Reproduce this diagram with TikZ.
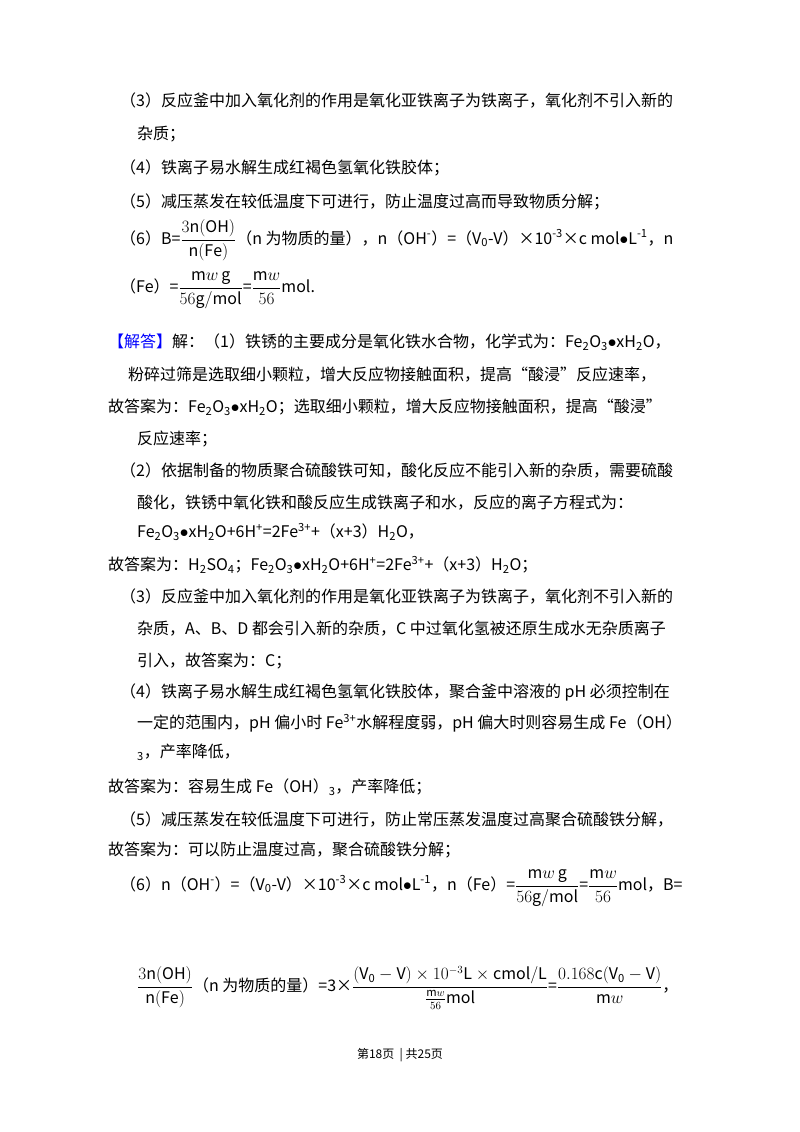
\documentclass[tikz,border=0pt]{standalone}
\usepackage{amsmath}
\usepackage{fontspec}
\setmainfont{Noto Sans CJK SC}
\begin{document}
\begin{tikzpicture}[x=1pt,y=1pt,
  tx/.style={anchor=west,inner sep=0,font=\fontsize{16}{18}\selectfont}]
\useasboundingbox (0,0) rectangle (800,-1132);
\fill[white] (0,0) rectangle (800,-1132);
\newcommand{\sub}[1]{\textsubscript{#1}}
\newcommand{\sps}[1]{\textsuperscript{#1}}
\newcommand{\fe}{Fe\sub{2}O\sub{3}$\bullet$xH\sub{2}O}
\node[tx] (a1) at (120,-101) {（3）反应釜中加入氧化剂的作用是氧化亚铁离子为铁离子，氧化剂不引入新的};
\node[tx] (a2) at (137,-134) {杂质；};
\node[tx] (a3) at (120,-168) {（4）铁离子易水解生成红褐色氢氧化铁胶体；};
\node[tx] (a4) at (120,-202) {（5）减压蒸发在较低温度下可进行，防止温度过高而导致物质分解；};
\node[tx] (a5) at (120,-240) {（6）B=$\dfrac{3\mathrm{n(OH)}}{\mathrm{n(Fe)}}$（n 为物质的量），n（OH\sps{-}）=（V\sub{0}-V）×10\sps{-3}×c mol$\bullet$L\sps{-1}，n};
\node[tx] (a6) at (120,-290) {（Fe）=$\dfrac{\mathrm{m}w\,\mathrm{g}}{56\mathrm{g/mol}}$=$\dfrac{\mathrm{m}w}{56}$mol.};
\node[tx] (a7) at (108,-342) {\textcolor{blue}{【解答】}解：（1）铁锈的主要成分是氧化铁水合物，化学式为：\fe，};
\node[tx] (a8) at (128,-375) {粉碎过筛是选取细小颗粒，增大反应物接触面积，提高“酸浸”反应速率，};
\node[tx] (a9) at (108,-407) {故答案为：\fe；选取细小颗粒，增大反应物接触面积，提高“酸浸”};
\node[tx] (a10) at (137,-439) {反应速率；};
\node[tx] (a11) at (120,-471) {（2）依据制备的物质聚合硫酸铁可知，酸化反应不能引入新的杂质，需要硫酸};
\node[tx] (a12) at (137,-503) {酸化，铁锈中氧化铁和酸反应生成铁离子和水，反应的离子方程式为：};
\node[tx] (a13) at (137,-532) {\fe+6H\sps{+}=2Fe\sps{3+}+（x+3）H\sub{2}O，};
\node[tx] (a14) at (108,-565) {故答案为：H\sub{2}SO\sub{4}；\fe+6H\sps{+}=2Fe\sps{3+}+（x+3）H\sub{2}O；};
\node[tx] (a15) at (120,-597) {（3）反应釜中加入氧化剂的作用是氧化亚铁离子为铁离子，氧化剂不引入新的};
\node[tx] (a16) at (137,-629) {杂质，A、B、D 都会引入新的杂质，C 中过氧化氢被还原生成水无杂质离子};
\node[tx] (a17) at (137,-661) {引入，故答案为：C；};
\node[tx] (a18) at (120,-692) {（4）铁离子易水解生成红褐色氢氧化铁胶体，聚合釜中溶液的 pH 必须控制在};
\node[tx] (a19) at (137,-723) {一定的范围内，pH 偏小时 Fe\sps{3+}水解程度弱，pH 偏大时则容易生成 Fe（OH）};
\node[tx] (a20) at (137,-752) {\sub{3}，产率降低，};
\node[tx] (a21) at (108,-787) {故答案为：容易生成 Fe（OH）\sub{3}，产率降低；};
\node[tx] (a22) at (120,-819) {（5）减压蒸发在较低温度下可进行，防止常压蒸发温度过高聚合硫酸铁分解，};
\node[tx] (a23) at (108,-850) {故答案为：可以防止温度过高，聚合硫酸铁分解；};
\node[tx] (a24) at (120,-888) {（6）n（OH\sps{-}）=（V\sub{0}-V）×10\sps{-3}×c mol$\bullet$L\sps{-1}，n（Fe）=$\dfrac{\mathrm{m}w\,\mathrm{g}}{56\mathrm{g/mol}}$=$\dfrac{\mathrm{m}w}{56}$mol，B=};
\node[tx] (a25) at (137,-988) {$\dfrac{3\mathrm{n(OH)}}{\mathrm{n(Fe)}}$（n 为物质的量）=3×$\dfrac{(\mathrm{V_0-V})\times10^{-3}\mathrm{L}\times\mathrm{cmol/L}}{\frac{\mathrm{m}w}{56}\mathrm{mol}}$=$\dfrac{0.168\mathrm{c}(\mathrm{V_0-V})}{\mathrm{m}w}$，};
\node[anchor=center,inner sep=0,font=\fontsize{12}{14}\selectfont] (ft) at (400,-1055) {第18页 \ | 共25页};
\end{tikzpicture}
\end{document}
